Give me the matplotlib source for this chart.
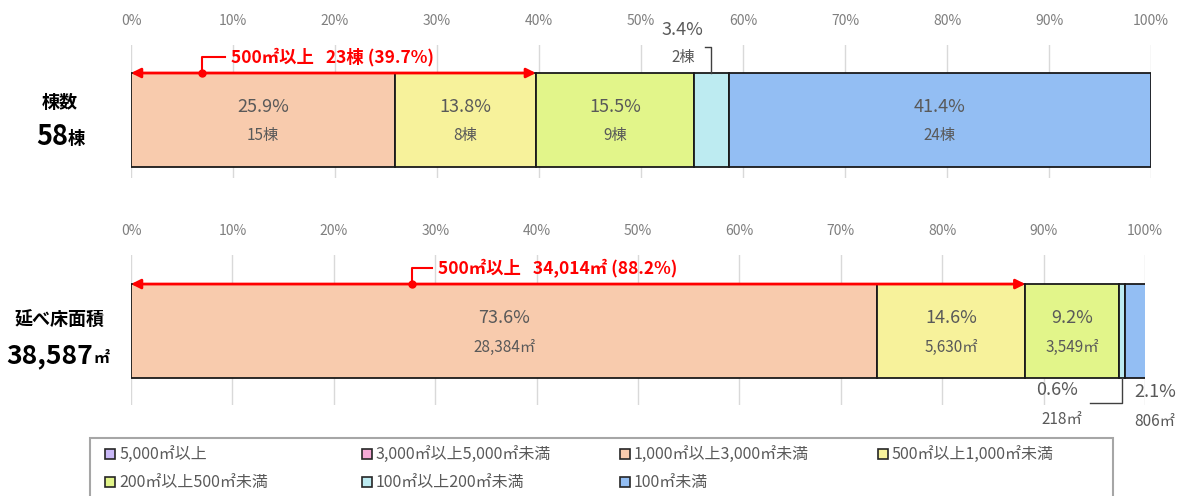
import matplotlib
matplotlib.use('Agg')
import matplotlib.pyplot as plt
from matplotlib.patches import Rectangle
import numpy as np

plt.rcParams['font.family'] = ['Noto Sans CJK JP', 'DejaVu Sans']

categories = ['5,000㎡以上', '3,000㎡以上5,000㎡未満', '1,000㎡以上3,000㎡未満',
              '500㎡以上1,000㎡未満', '200㎡以上500㎡未満', '100㎡以上200㎡未満', '100㎡未満']
colors = ['#C9B8F7', '#F5A9D6', '#F8CBAD', '#F7F29B', '#E2F58A', '#BDEBF1', '#93BEF3']

count_vals = [0, 0, 15, 8, 9, 2, 24]
count_pct = [0.0, 0.0, 25.9, 13.8, 15.5, 3.4, 41.4]
area_vals = [0, 0, 28384, 5630, 3549, 218, 806]
area_pct = [0.0, 0.0, 73.6, 14.6, 9.2, 0.6, 2.1]

count_total = 58
area_total = 38587
count_over500 = 23
count_over500_pct = 39.7
area_over500 = 34014
area_over500_pct = 88.2

ticks = np.arange(0, 101, 10)
grey = '#595959'

W, H = 1181, 496
fig = plt.figure(figsize=(W / 100, H / 100), dpi=100)


def make_ax(x0, x1, y_top, y_bot):
    ax = fig.add_axes([x0 / W, 1 - y_bot / H, (x1 - x0) / W, (y_bot - y_top) / H])
    ax.set_xlim(0, 100)
    ax.xaxis.tick_top()
    ax.set_xticks(ticks)
    ax.set_xticklabels([f'{t}%' for t in ticks], color='#7F7F7F', fontsize=10)
    ax.tick_params(axis='x', length=0, pad=12)
    ax.set_yticks([])
    for s in ax.spines.values():
        s.set_visible(False)
    ax.grid(axis='x', color='#D9D9D9', lw=1)
    ax.set_axisbelow(True)
    return ax


def draw_bar(ax, pct, vals, unit, inside):
    left = 0
    for i, (p, v) in enumerate(zip(pct, vals)):
        if p == 0:
            continue
        ax.barh(0, p, left=left, height=1, color=colors[i], edgecolor='#1A1A1A', lw=1.3)
        if i in inside:
            c = left + p / 2
            ax.text(c, 0.14, f'{p}%', ha='center', va='center', fontsize=13, color=grey)
            ax.text(c, -0.17, f'{v:,}{unit}', ha='center', va='center', fontsize=11, color=grey)
        left += p


def red_arrow(ax, end, dot_x, bend_x, text):
    ax.annotate('', xy=(0, 0.5), xytext=(end, 0.5),
                arrowprops=dict(arrowstyle='<|-|>', color='red', lw=2,
                                mutation_scale=14, shrinkA=0, shrinkB=0), annotation_clip=False)
    ax.plot([dot_x, dot_x, bend_x], [0.5, 0.67, 0.67], color='red', lw=1.5, clip_on=False)
    ax.plot([dot_x], [0.5], 'o', color='red', ms=5, clip_on=False)
    ax.text(bend_x + 0.6, 0.67, text, color='red', fontsize=12.5, fontweight='bold',
            ha='left', va='center')


# top: building counts
ax1 = make_ax(131, 1151, 45, 178)
ax1.set_ylim(-0.617, 0.798)
draw_bar(ax1, count_pct, count_vals, '棟', inside=[2, 3, 4, 6])
red_arrow(ax1, count_over500_pct, 7.0, 9.2,
          f'500㎡以上   {count_over500}棟 ({count_over500_pct}%)')
c5 = sum(count_pct[:5]) + count_pct[5] / 2
ax1.text(54.1, 0.96, f'{count_pct[5]}%', ha='center', va='center', fontsize=13, color=grey,
         clip_on=False)
ax1.text(54.1, 0.66, f'{count_vals[5]}棟', ha='center', va='center', fontsize=11, color=grey)
ax1.plot([56.3, c5, c5], [0.777, 0.777, 0.5], color='#404040', lw=1, clip_on=False)

# bottom: floor area
ax2 = make_ax(131, 1145, 255, 405)
ax2.set_ylim(-0.787, 0.809)
draw_bar(ax2, area_pct, area_vals, '㎡', inside=[2, 3, 4])
red_arrow(ax2, area_over500_pct, 27.7, 29.7,
          f'500㎡以上   {area_over500:,}㎡ ({area_over500_pct}%)')
c5 = sum(area_pct[:5]) + area_pct[5] / 2
ax2.text(91.3, -0.628, f'{area_pct[5]}%', ha='center', va='center', fontsize=13, color=grey,
         clip_on=False)
ax2.text(91.8, -0.936, f'{area_vals[5]}㎡', ha='center', va='center', fontsize=11,
         color=grey, clip_on=False)
ax2.plot([94.6, c5, c5], [-0.766, -0.766, -0.5], color='#404040', lw=1, clip_on=False)
ax2.text(101.0, -0.649, f'{area_pct[6]}%', ha='center', va='center', fontsize=13, color=grey,
         clip_on=False)
ax2.text(101.0, -0.96, f'{area_vals[6]}㎡', ha='center', va='center', fontsize=11,
         color=grey, clip_on=False)

# left titles
fig.text(60 / W, 1 - 103 / H, '棟数', ha='center', va='center', fontsize=13, fontweight='bold')
fig.text(68 / W, 1 - 137 / H, f'{count_total}', ha='right', va='center', fontsize=19.5,
         fontweight='bold')
fig.text(68 / W, 1 - 139 / H, '棟', ha='left', va='center', fontsize=12.5, fontweight='bold')
fig.text(60 / W, 1 - 320 / H, '延べ床面積', ha='center', va='center', fontsize=13,
         fontweight='bold')
fig.text(93 / W, 1 - 356 / H, f'{area_total:,}', ha='right', va='center', fontsize=19,
         fontweight='bold')
fig.text(93 / W, 1 - 358 / H, '㎡', ha='left', va='center', fontsize=11.5, fontweight='bold')

# legend
fig.add_artist(Rectangle((90 / W, -0.05), (1113 - 90) / W, 0.05 + (H - 438) / H,
                         transform=fig.transFigure, facecolor='white',
                         edgecolor='#A6A6A6', lw=1.5))
col_x = [105, 362, 620, 878]
row_y = [454, 482]
for i, (name, col) in enumerate(zip(categories, colors)):
    x = col_x[i % 4]
    y = row_y[i // 4]
    fig.add_artist(Rectangle((x / W, 1 - (y + 5) / H), 10 / W, 10 / H,
                             transform=fig.transFigure, facecolor=col,
                             edgecolor='#262626', lw=1.2))
    fig.text((x + 14) / W, 1 - y / H, name, ha='left', va='center', fontsize=11.5, color=grey)

fig.savefig('out.png', dpi=100)
